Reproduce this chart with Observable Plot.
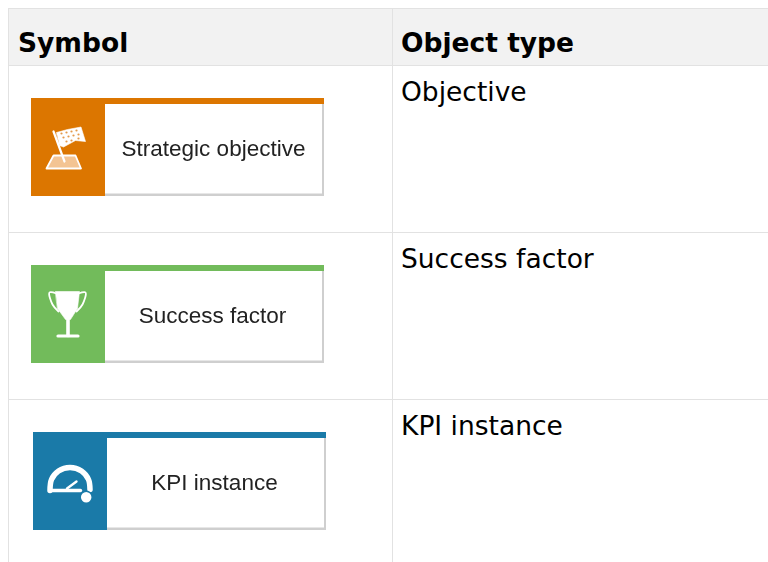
<!DOCTYPE html>
<html><head><meta charset="utf-8">
<style>html,body{margin:0;padding:0;background:#fff;overflow:hidden}svg{display:block}</style>
<script src="https://cdn.jsdelivr.net/npm/d3@7"></script>
<script src="https://cdn.jsdelivr.net/npm/@observablehq/plot@0.6"></script>
</head><body>
<script>
const headers = ["Symbol", "Object type"];
const rowTypes = ["Objective", "Success factor", "KPI instance"];
const symbolLabels = ["Strategic objective", "Success factor", "KPI instance"];
const symbolColors = ["#dc7600", "#72bb5b", "#1a7aa8"];
const cardLeft = [31, 31, 33];
const cardTop = [98, 265, 432];
const labelCenter = [213, 212, 214];
const rowLines = [65, 232, 399];

const cards = cardLeft.map((x, i) => ({x, y: cardTop[i], color: symbolColors[i], label: symbolLabels[i], cx: labelCenter[i]}));
const ln = "#e2e2e2";
const poly = (z, pts) => pts.map(([x, y]) => ({z, x, y}));

const flagBody = [[56,132],[67,129],[80.5,126.5],[85,141],[75,140],[63,146.5],[59,145]];
const flagPole = [[53,131],[64,161]];
const flagBase = [[53,155],[75,155],[80.5,168],[46,168]];
const cupBody = [[55,291],[79,291],[77,308],[70,319],[65,319],[57,308]];
const cupHandleL = [[56,293],[49,292],[52,304],[58,311]];
const cupHandleR = [[78,293],[85,292],[82,304],[76,311]];
const cupStem = [[67.5,317],[67.5,335]];
const cupFoot = [[57.5,335.5],[77.5,335.5]];
const gaugeArch = [[49.5,490],[51,479],[58,470.5],[69.5,467],[81,470.5],[88,479],[89.5,489]];
const gaugeBase = [[49.5,490],[80,490]];
const gaugeNeedle = [[66.5,488],[76,481]];
const gaugeDot = [{x: 85.7, y: 496.7}];
const flagChecks = [[61,133],[66,132],[71,131],[76,130],[63,137],[68,136],[73,135],[78,134],[66,141],[71,140],[78,138]];

const shared = {x: "x", y: "y", z: "z"};
const soft = "blur(0.6px)";
const filled = (d) => Plot.line(d, {...shared, curve: "linear-closed", fill: "#fff", stroke: "#fff", strokeWidth: 0.6, imageFilter: soft});
const stroked = (d, w, curve = "linear") => Plot.line(d, {...shared, curve, stroke: "#fff", strokeWidth: w, imageFilter: soft});

const plot = Plot.plot({
  width: 768, height: 562,
  marginTop: 0, marginRight: 0, marginBottom: 0, marginLeft: 0,
  x: {domain: [0, 768], range: [0, 768], axis: null},
  y: {domain: [0, 562], range: [0, 562], axis: null},
  marks: [
    Plot.rect([0], {x1: 8, x2: 768, y1: 8, y2: 65, fill: "#f2f2f2"}),
    Plot.ruleX([8, 392], {y1: 8, y2: 562, stroke: ln, strokeWidth: 1}),
    Plot.ruleY([8, ...rowLines], {x1: 8, x2: 768, stroke: ln, strokeWidth: 1}),

    Plot.text(headers, {x: [17.5, 400.5], y: [43, 43], text: d => d, textAnchor: "start", fontFamily: "DejaVu Sans", fontWeight: "bold", fontSize: 26.5, fill: "#000"}),
    Plot.text(rowTypes, {x: [400.5, 400.5, 400.5], y: rowLines.map(d => d + 27), text: d => d, textAnchor: "start", fontFamily: "DejaVu Sans", fontSize: 26.5, fill: "#000"}),

    // card shadow, body, header band and colour block
    Plot.rect(cards, {x1: d => d.x, x2: d => d.x + 293, y1: d => d.y, y2: d => d.y + 98, fill: "#cfcfcf", imageFilter: soft}),
    Plot.rect(cards, {x1: d => d.x + 74, x2: d => d.x + 291, y1: d => d.y + 6, y2: d => d.y + 95.5, fill: "#fff"}),
    Plot.rect(cards, {x1: d => d.x, x2: d => d.x + 293, y1: d => d.y, y2: d => d.y + 6, fill: d => d.color, imageFilter: "blur(0.3px)"}),
    Plot.rect(cards, {x1: d => d.x, x2: d => d.x + 74, y1: d => d.y, y2: d => d.y + 98, fill: d => d.color, imageFilter: "blur(0.3px)"}),
    Plot.text(cards, {x: "cx", y: d => d.y + 50, text: "label", textAnchor: "middle", fontFamily: "Liberation Sans", fontSize: 22.5, fill: "#222", imageFilter: "blur(0.5px)"}),

    // flag icon
    filled(poly("f", flagBody)),
    Plot.dot(flagChecks.map(([x, y]) => ({x, y})), {x: "x", y: "y", r: 1.1, fill: "#e49a4c", imageFilter: soft}),
    Plot.line(poly("b", flagBase), {...shared, curve: "linear-closed", fill: "#f3c493", stroke: "#fff", strokeWidth: 1.8, imageFilter: soft}),
    stroked(poly("p", flagPole), 2.2),

    // trophy icon
    filled(poly("c", cupBody)),
    stroked([...poly("l", cupHandleL), ...poly("r", cupHandleR)], 1.8, "catmull-rom"),
    stroked(poly("s", cupStem), 3.6),
    stroked(poly("ft", cupFoot), 3.2),

    // gauge icon
    stroked(poly("a", gaugeArch), 5.5, "catmull-rom"),
    stroked(poly("g", gaugeBase), 3.4),
    stroked(poly("n", gaugeNeedle), 2.4),
    Plot.dot(gaugeDot, {x: "x", y: "y", r: 6, fill: "#fff", stroke: symbolColors[2], strokeWidth: 1.5, imageFilter: "blur(0.3px)"})
  ]
});
document.body.appendChild(plot);
</script>
</body></html>
